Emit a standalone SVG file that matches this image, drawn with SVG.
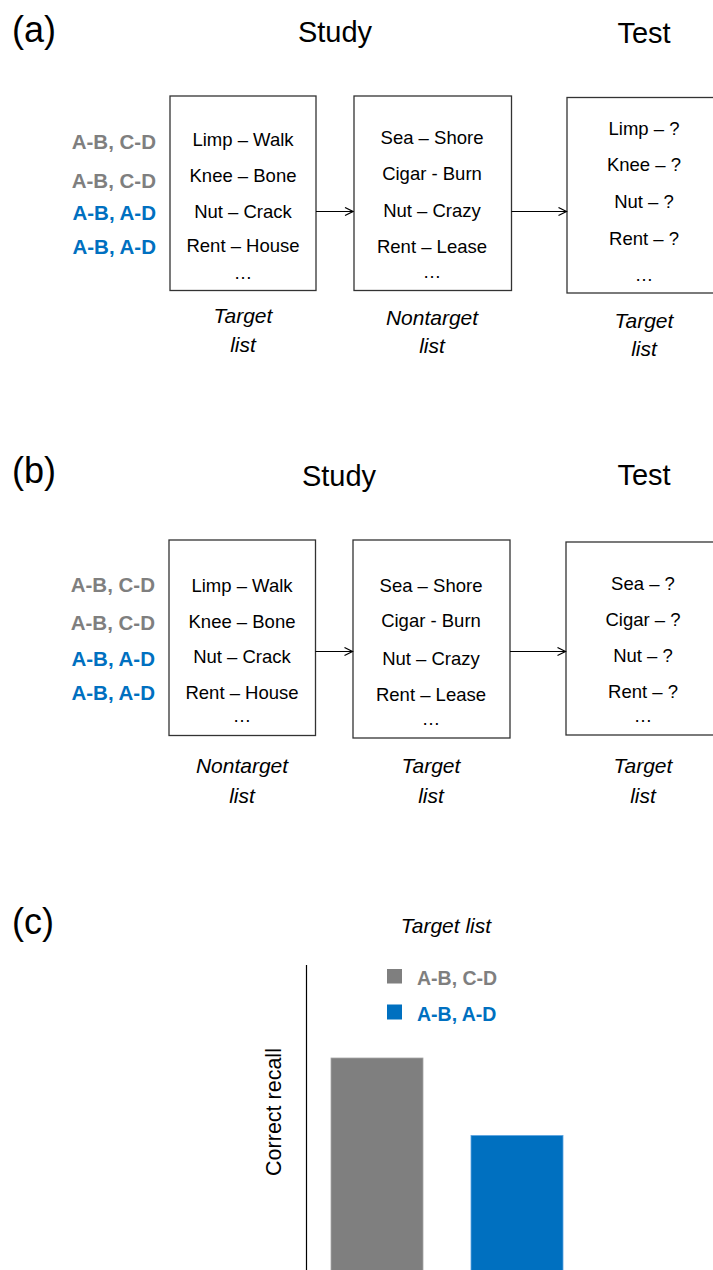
<svg xmlns="http://www.w3.org/2000/svg" width="713" height="1270" viewBox="0 0 713 1270">
<style>
.t{font-family:"Liberation Sans",Arial,sans-serif;fill:#000}
.big{font-size:29px}
.pl{font-size:36px}
.bx{font-size:18.5px;text-anchor:middle}
.it{font-size:21px;font-style:italic;text-anchor:middle}
.lab{font-family:"Liberation Sans",Arial,sans-serif;font-size:20.5px;font-weight:bold;text-anchor:end}
.g{fill:#7F7F7F}
.b{fill:#0070C0}
.box{fill:#fff;stroke:#333;stroke-width:1.3}
.con{stroke:#000;stroke-width:1.2;fill:none;marker-end:url(#ah)}
</style>
<defs>
<marker id="ah" markerWidth="10" markerHeight="10" refX="9" refY="5" orient="auto" markerUnits="userSpaceOnUse">
<path d="M1,1 L9,5 L1,9" fill="none" stroke="#000" stroke-width="1.2"/>
</marker>
</defs>
<rect width="713" height="1270" fill="#fff"/>

<!-- Panel (a) -->
<g id="panel-a-headers">
<text class="t pl" x="12" y="42">(a)</text>
<text class="t big" x="335" y="42" text-anchor="middle">Study</text>
<text class="t big" x="644" y="43" text-anchor="middle">Test</text>
</g>
<g id="a-labels">
<text class="lab g" x="156" y="149">A-B, C-D</text>
<text class="lab g" x="156" y="188">A-B, C-D</text>
<text class="lab b" x="156" y="220">A-B, A-D</text>
<text class="lab b" x="156" y="254">A-B, A-D</text>
</g>
<g id="a-box1">
<rect class="box" x="170" y="96" width="146" height="194.5"/>
<text class="t bx" x="243" y="146">Limp – Walk</text>
<text class="t bx" x="243" y="182">Knee – Bone</text>
<text class="t bx" x="243" y="218">Nut – Crack</text>
<text class="t bx" x="243" y="252">Rent – House</text>
<text class="t bx" x="243" y="279">…</text>
<text class="t it" x="243" y="323">Target</text>
<text class="t it" x="243" y="352">list</text>
</g>
<g id="a-box2">
<rect class="box" x="354" y="96" width="157.5" height="194.5"/>
<text class="t bx" x="432" y="144">Sea – Shore</text>
<text class="t bx" x="432" y="180">Cigar - Burn</text>
<text class="t bx" x="432" y="216.5">Nut – Crazy</text>
<text class="t bx" x="432" y="253">Rent – Lease</text>
<text class="t bx" x="432" y="278">…</text>
<text class="t it" x="432" y="325">Nontarget</text>
<text class="t it" x="432" y="353">list</text>
</g>
<g id="a-box3">
<rect class="box" x="567" y="97.5" width="160" height="195.5"/>
<text class="t bx" x="644" y="135">Limp – ?</text>
<text class="t bx" x="644" y="171">Knee – ?</text>
<text class="t bx" x="644" y="208">Nut – ?</text>
<text class="t bx" x="644" y="245">Rent – ?</text>
<text class="t bx" x="644" y="281">…</text>
<text class="t it" x="644" y="328">Target</text>
<text class="t it" x="644" y="356">list</text>
</g>

<!-- Panel (b) -->
<g id="panel-b-headers">
<text class="t pl" x="12" y="483">(b)</text>
<text class="t big" x="339" y="486" text-anchor="middle">Study</text>
<text class="t big" x="644" y="485" text-anchor="middle">Test</text>
</g>
<g id="b-labels">
<text class="lab g" x="155" y="592">A-B, C-D</text>
<text class="lab g" x="155" y="630">A-B, C-D</text>
<text class="lab b" x="155" y="665.5">A-B, A-D</text>
<text class="lab b" x="155" y="699.5">A-B, A-D</text>
</g>
<g id="b-box1">
<rect class="box" x="169" y="540" width="146.5" height="195.5"/>
<text class="t bx" x="242" y="591.5">Limp – Walk</text>
<text class="t bx" x="242" y="627.5">Knee – Bone</text>
<text class="t bx" x="242" y="662.5">Nut – Crack</text>
<text class="t bx" x="242" y="698.5">Rent – House</text>
<text class="t bx" x="242" y="722">…</text>
<text class="t it" x="242" y="773">Nontarget</text>
<text class="t it" x="242" y="803">list</text>
</g>
<g id="b-box2">
<rect class="box" x="353" y="540" width="157" height="198"/>
<text class="t bx" x="431" y="592">Sea – Shore</text>
<text class="t bx" x="431" y="626.5">Cigar - Burn</text>
<text class="t bx" x="431" y="665">Nut – Crazy</text>
<text class="t bx" x="431" y="700.5">Rent – Lease</text>
<text class="t bx" x="431" y="725">…</text>
<text class="t it" x="431" y="773">Target</text>
<text class="t it" x="431" y="803">list</text>
</g>
<g id="b-box3">
<rect class="box" x="566" y="542" width="160" height="193"/>
<text class="t bx" x="643" y="590">Sea – ?</text>
<text class="t bx" x="643" y="625.5">Cigar – ?</text>
<text class="t bx" x="643" y="662">Nut – ?</text>
<text class="t bx" x="643" y="698">Rent – ?</text>
<text class="t bx" x="643" y="722">…</text>
<text class="t it" x="643" y="773">Target</text>
<text class="t it" x="643" y="803">list</text>
</g>

<g id="connectors">
<line class="con" x1="316" y1="211.5" x2="353" y2="211.5"/>
<line class="con" x1="511.5" y1="211.5" x2="566.5" y2="211.5"/>
<line class="con" x1="315.5" y1="651.5" x2="352.5" y2="651.5"/>
<line class="con" x1="510" y1="651.5" x2="565.5" y2="651.5"/>
</g>

<!-- Panel (c) -->
<g id="panel-c">
<text class="t pl" x="12" y="934">(c)</text>
<text class="t it" x="446" y="933">Target list</text>
<line x1="306.5" y1="965" x2="306.5" y2="1270" stroke="#000" stroke-width="1.2"/>
<text class="t" x="0" y="0" font-size="21.5" text-anchor="middle" transform="translate(281,1112) rotate(-90)">Correct recall</text>
<rect x="387" y="969" width="15" height="14.5" fill="#7F7F7F"/>
<text class="lab g" x="417" y="985" style="text-anchor:start;font-size:19.5px">A-B, C-D</text>
<rect x="387" y="1004.5" width="15" height="15" fill="#0070C0"/>
<text class="lab b" x="417" y="1020.5" style="text-anchor:start;font-size:19.5px">A-B, A-D</text>
<rect x="331" y="1058" width="92" height="214" fill="#7F7F7F" stroke="#A6A6A6" stroke-width="0.8"/>
<rect x="471" y="1135.5" width="92" height="136" fill="#0070C0" stroke="#5BA3E0" stroke-width="0.8"/>
</g>
</svg>
